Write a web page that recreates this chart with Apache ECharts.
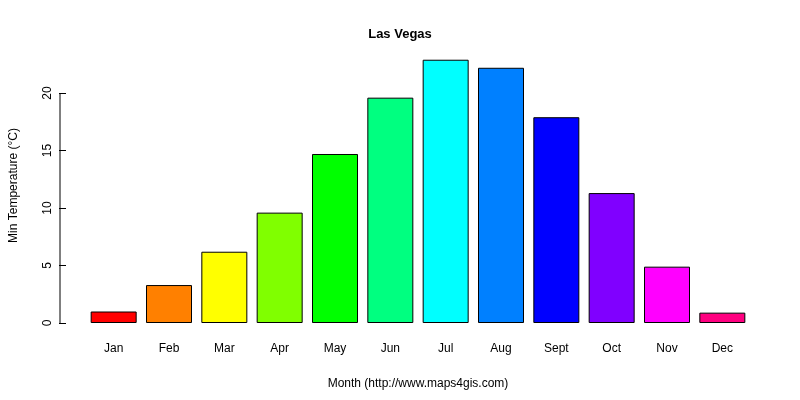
<!DOCTYPE html>
<html>
<head>
<meta charset="utf-8">
<script src="https://cdn.jsdelivr.net/npm/echarts@6/dist/echarts.min.js"></script>
<style>html,body{margin:0;padding:0;background:#fff}#main{width:800px;height:400px}</style>
</head>
<body>
<div id="main"></div>
<script>
// 月份与最低气温
var months = ['Jan', 'Feb', 'Mar', 'Apr', 'May', 'Jun', 'Jul', 'Aug', 'Sept', 'Oct', 'Nov', 'Dec'];
var minTemps = [1.0, 3.3, 6.2, 9.6, 14.7, 19.6, 22.9, 22.2, 17.9, 11.3, 4.9, 0.9];
var barColors = ['#FF0000', '#FF8000', '#FFFF00', '#80FF00', '#00FF00', '#00FF80',
    '#00FFFF', '#0080FF', '#0000FF', '#8000FF', '#FF00FF', '#FF0080'];
var yTicks = [0, 5, 10, 15, 20];

var font = 'Liberation Sans, Arial, sans-serif';
var chart = echarts.init(document.getElementById('main'));

var option = {
    animation: false,
    title: {
        text: 'Las Vegas', left: 'center', top: 23,
        textStyle: {fontFamily: font, fontSize: 13, fontWeight: 'bold', color: '#000'}
    },
    grid: {left: 80, right: 50, top: 48, bottom: 77},
    xAxis: {
        type: 'category', data: months,
        name: 'Month (http://www.maps4gis.com)', nameLocation: 'middle', nameGap: 55,
        nameTextStyle: {fontFamily: font, fontSize: 12, color: '#000'},
        axisLine: {show: false}, axisTick: {show: false},
        axisLabel: {margin: 20, fontFamily: font, fontSize: 12, color: '#000'}
    },
    yAxis: {
        type: 'value', min: 0, max: 23.92, offset: 20,
        name: 'Min Temperature (°C)', nameLocation: 'middle', nameGap: 46,
        nameTextStyle: {fontFamily: font, fontSize: 12, color: '#000'},
        splitLine: {show: false},
        axisLine: {show: false},
        axisTick: {show: true, length: 7, lineStyle: {color: '#000'}, customValues: yTicks},
        axisLabel: {rotate: 90, margin: 12, fontFamily: font, fontSize: 12, color: '#000', customValues: yTicks}
    },
    series: [{
        type: 'bar', barWidth: 46,
        data: minTemps.map(function (v, i) {
            return {value: v, itemStyle: {color: barColors[i]}};
        }),
        itemStyle: {borderColor: '#000', borderWidth: 1}
    }]
};
chart.setOption(option);

// y轴线只画到刻度范围
var p0 = chart.convertToPixel({yAxisIndex: 0}, yTicks[0]);
var p1 = chart.convertToPixel({yAxisIndex: 0}, yTicks[yTicks.length - 1]);
chart.setOption({
    graphic: [{
        type: 'line', shape: {x1: 60, y1: p0, x2: 60, y2: p1},
        style: {stroke: '#000', lineWidth: 1}
    }]
});
</script>
</body>
</html>
